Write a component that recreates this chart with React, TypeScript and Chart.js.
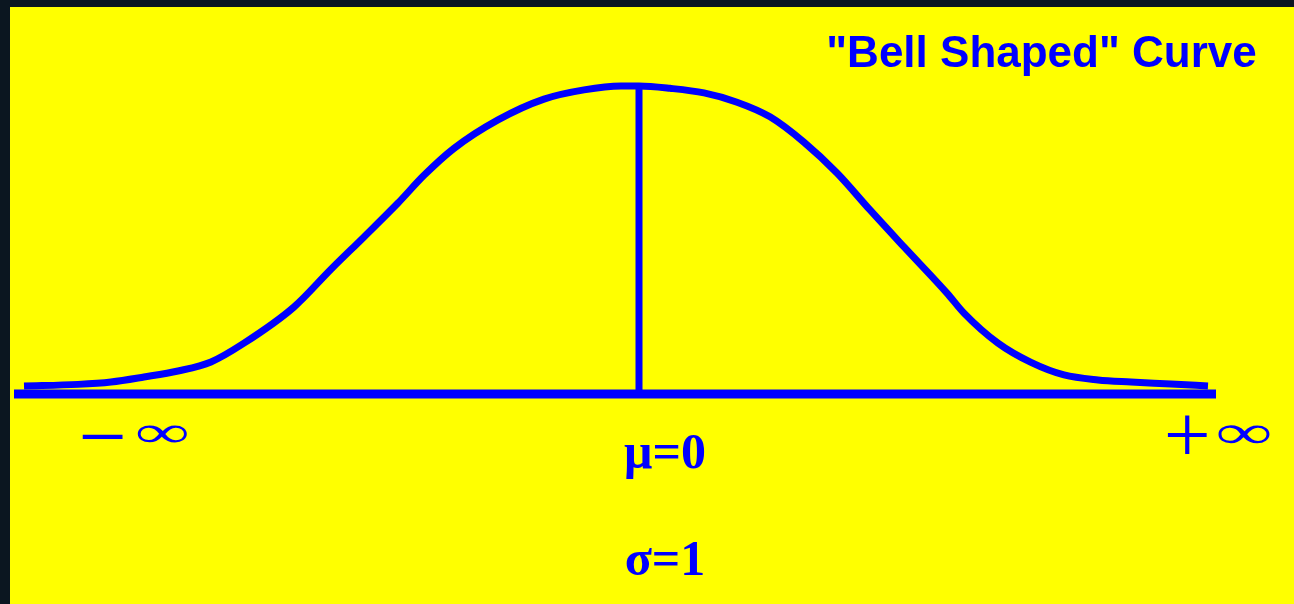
import React, { useEffect, useRef } from "react";
import { Chart, registerables } from "chart.js";

Chart.register(...registerables);

// Curve: z in sigma units, density (peak ≈ 0.4)
const curveZ = [
  -3.075, -2.805, -2.64, -2.475, -2.305, -2.14, -1.975, -1.725, -1.54, -1.375,
  -1.205, -1.075, -0.925, -0.705, -0.475, -0.275, -0.09, 0, 0.155, 0.325, 0.49,
  0.655, 0.825, 0.99, 1.155, 1.325, 1.54, 1.625, 1.795, 1.96, 2.125, 2.295,
  2.46, 2.66, 2.845,
];
const curveDensity = [
  0.0104, 0.0125, 0.0156, 0.0221, 0.0299, 0.0416, 0.066, 0.113, 0.162, 0.204,
  0.248, 0.284, 0.319, 0.356, 0.383, 0.395, 0.4, 0.4, 0.397, 0.391, 0.379,
  0.36, 0.327, 0.287, 0.239, 0.191, 0.131, 0.105, 0.066, 0.041, 0.0247, 0.0182,
  0.0156, 0.013, 0.0104,
];
const baselineZ = [-3.125, 2.885];
const baselineDensity = [0, 0];
const meanZ = [0, 0];
const meanDensity = [0, 0.4];

const titleText = '"Bell Shaped" Curve';
const axisLabels = ["−∞", "μ=0", "+∞"];
const sigmaLabel = "σ=1";

const BLUE = "#0000ff";
const YELLOW = "#ffff00";
const SERIF = "'Liberation Serif', 'Times New Roman', serif";

// draw one glyph fitted into a box (canvas coords)
function fitGlyph(
  ctx: CanvasRenderingContext2D,
  ch: string,
  x0: number,
  x1: number,
  y0: number,
  y1: number,
  uniform: boolean
) {
  ctx.save();
  ctx.font = "100px " + SERIF;
  ctx.textAlign = "left";
  ctx.textBaseline = "alphabetic";
  const m = ctx.measureText(ch);
  const gl = -m.actualBoundingBoxLeft;
  const gr = m.actualBoundingBoxRight;
  const gt = -m.actualBoundingBoxAscent;
  const gb = m.actualBoundingBoxDescent;
  const sx = (x1 - x0) / (gr - gl);
  let sy = (y1 - y0) / (gb - gt);
  if (uniform) sy = sx;
  const cy = (y0 + y1) / 2;
  const gcy = (gt + gb) / 2;
  ctx.translate(x0 - gl * sx, cy - gcy * sy);
  ctx.scale(sx, sy);
  ctx.fillText(ch, 0, 0);
  ctx.restore();
}

const textPlugin = {
  id: "bellText",
  afterDraw(chart: any) {
    const ctx = chart.ctx as CanvasRenderingContext2D;
    ctx.save();
    ctx.fillStyle = BLUE;
    ctx.textAlign = "center";
    ctx.textBaseline = "alphabetic";
    ctx.font = "bold 44px 'Liberation Sans', Arial, sans-serif";
    ctx.fillText(titleText, 1031.5, 60);
    ctx.font = "bold 50px " + SERIF;
    ctx.fillText(axisLabels[1], 655, 461);
    ctx.fillText(sigmaLabel, 655, 568);
    // "−∞"
    const left = Array.from(axisLabels[0]);
    fitGlyph(ctx, left[0], 72, 113, 428.5, 431.5, true);
    fitGlyph(ctx, left[1], 127, 177, 418, 436, false);
    // "+∞"
    const right = Array.from(axisLabels[2]);
    fitGlyph(ctx, right[0], 1157, 1197, 408, 446, true);
    fitGlyph(ctx, right[1], 1208, 1260, 418, 437, false);
    ctx.restore();
  },
};

const bgPlugin = {
  id: "bg",
  beforeDraw(chart: any) {
    const ctx = chart.ctx;
    ctx.save();
    ctx.fillStyle = YELLOW;
    ctx.fillRect(0, 0, chart.width, chart.height);
    ctx.restore();
  },
};

export default function App() {
  const ref = useRef<HTMLCanvasElement | null>(null);

  useEffect(() => {
    if (!ref.current) return;
    const toPts = (xs: number[], ys: number[]) =>
      xs.map((x, i) => ({ x, y: ys[i] }));
    const chart = new Chart(ref.current, {
      type: "line",
      data: {
        datasets: [
          {
            data: toPts(curveZ, curveDensity),
            borderColor: BLUE,
            borderWidth: 7,
            pointRadius: 0,
            cubicInterpolationMode: "monotone",
            fill: false,
          },
          {
            data: toPts(meanZ, meanDensity),
            borderColor: BLUE,
            borderWidth: 7,
            pointRadius: 0,
            fill: false,
          },
          {
            data: toPts(baselineZ, baselineDensity),
            borderColor: BLUE,
            borderWidth: 9,
            pointRadius: 0,
            fill: false,
          },
        ],
      },
      options: {
        responsive: false,
        animation: false,
        layout: { padding: 0 },
        plugins: {
          legend: { display: false },
          tooltip: { enabled: false },
          title: { display: false },
        },
        scales: {
          x: { type: "linear", display: false, min: -3.145, max: 3.275 },
          y: { type: "linear", display: false, min: -0.27273, max: 0.5026 },
        },
      },
      plugins: [bgPlugin, textPlugin],
    });
    return () => chart.destroy();
  }, []);

  return (
    <div
      style={{
        position: "fixed",
        left: 0,
        top: 0,
        width: "100vw",
        height: "100vh",
        background: "#0b1620",
        overflow: "hidden",
      }}
    >
      <canvas
        ref={ref}
        width={1284}
        height={597}
        style={{ position: "absolute", left: 10, top: 7, display: "block" }}
      />
    </div>
  );
}
